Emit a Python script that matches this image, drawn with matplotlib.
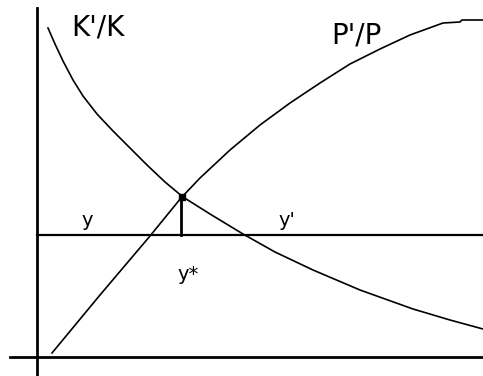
import numpy as np
import matplotlib.pyplot as plt

# curve points (pixel coords, y down)
kk_x = [48, 55, 63, 73, 83, 97, 113, 130, 147, 165, 183, 210, 243, 275,
        313, 360, 413, 450, 483]
kk_y = [28, 44, 61, 80, 96, 114, 131, 148, 165, 182, 197, 214, 234, 252,
        270, 290, 309, 320, 329]

pp_x = [52, 100, 150, 181, 200, 230, 260, 290, 320, 350, 380, 410, 443,
        460, 462, 483]
pp_y = [353, 295, 236, 198, 178, 150, 125, 103, 83, 64, 49, 35, 23,
        22, 20, 20]

y_level = 235
y_star = 181
y_cross = 197

fig = plt.figure(figsize=(4.83, 3.76), dpi=100)
ax = fig.add_axes([0, 0, 1, 1])
ax.set_xlim(0, 483)
ax.set_ylim(376, 0)
ax.axis('off')

# axes
ax.plot([37, 37], [8, 376], color='black', lw=2)
ax.plot([10, 483], [357, 357], color='black', lw=2)
ax.plot([37, 483], [y_level, y_level], color='black', lw=1.6)

# curves
ax.plot(kk_x, kk_y, color='black', lw=1.2)
ax.plot(pp_x, pp_y, color='black', lw=1.2)

# equilibrium
ax.plot([y_star, y_star], [y_cross, y_level], color='black', lw=2)
ax.plot([y_star + 1], [y_cross], marker='s', ms=5, color='black')

ax.text(71, 28, "K'/K", fontsize=20, family='DejaVu Sans', va='center', ha='left')
ax.text(331, 35, "P'/P", fontsize=20, family='DejaVu Sans', va='center', ha='left')
ax.text(87, 220, "y", fontsize=14, family='DejaVu Sans', va='center', ha='center')
ax.text(287, 220, "y'", fontsize=14, family='DejaVu Sans', va='center', ha='center')
ax.text(188, 275, "y*", fontsize=14, family='DejaVu Sans', va='center', ha='center')

fig.savefig('out.png', dpi=100)
